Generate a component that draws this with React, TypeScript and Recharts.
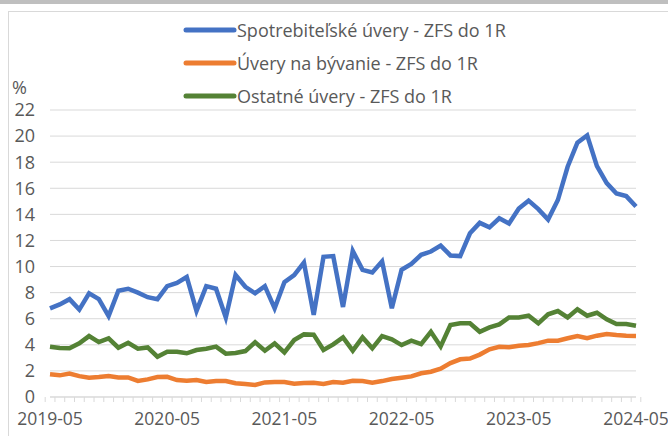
import { LineChart, Line, XAxis, YAxis, CartesianGrid, Legend } from "recharts";

const MONTHS = [
  "2019-05", "2019-06", "2019-07", "2019-08", "2019-09", "2019-10", "2019-11", "2019-12",
  "2020-01", "2020-02", "2020-03", "2020-04", "2020-05", "2020-06", "2020-07", "2020-08",
  "2020-09", "2020-10", "2020-11", "2020-12", "2021-01", "2021-02", "2021-03", "2021-04",
  "2021-05", "2021-06", "2021-07", "2021-08", "2021-09", "2021-10", "2021-11", "2021-12",
  "2022-01", "2022-02", "2022-03", "2022-04", "2022-05", "2022-06", "2022-07", "2022-08",
  "2022-09", "2022-10", "2022-11", "2022-12", "2023-01", "2023-02", "2023-03", "2023-04",
  "2023-05", "2023-06", "2023-07", "2023-08", "2023-09", "2023-10", "2023-11", "2023-12",
  "2024-01", "2024-02", "2024-03", "2024-04", "2024-05",
];

const CONSUMER = [
  6.8, 7.1, 7.5, 6.7, 7.95, 7.5, 6.2, 8.15, 8.3, 8.0, 7.65, 7.5,
  8.5, 8.75, 9.2, 6.6, 8.5, 8.3, 6.1, 9.35, 8.45, 7.95, 8.5, 6.8,
  8.8, 9.35, 10.3, 6.3, 10.75, 10.8, 6.9, 11.2, 9.75, 9.55, 10.4, 6.8,
  9.75, 10.2, 10.9, 11.15, 11.6, 10.85, 10.8, 12.55, 13.35, 13.0, 13.7, 13.3,
  14.45, 15.05, 14.4, 13.6, 15.1, 17.65, 19.5, 20.05, 17.7, 16.4, 15.6, 15.4,
  14.6,
];

const HOUSING = [
  1.74, 1.66, 1.8, 1.6, 1.48, 1.53, 1.6, 1.5, 1.5, 1.23, 1.35, 1.53,
  1.55, 1.3, 1.25, 1.3, 1.15, 1.22, 1.22, 1.05, 1.0, 0.92, 1.12, 1.15,
  1.15, 1.02, 1.07, 1.1, 1.0, 1.15, 1.1, 1.25, 1.22, 1.1, 1.22, 1.38,
  1.48, 1.58, 1.82, 1.94, 2.17, 2.6, 2.89, 2.95, 3.25, 3.65, 3.85, 3.82,
  3.93, 3.98, 4.13, 4.32, 4.32, 4.5, 4.68, 4.5, 4.7, 4.83, 4.75, 4.7,
  4.68,
];

const OTHER = [
  3.86, 3.76, 3.74, 4.11, 4.67, 4.21, 4.49, 3.78, 4.16, 3.7, 3.8, 3.09,
  3.47, 3.47, 3.35, 3.6, 3.7, 3.86, 3.32, 3.38, 3.52, 4.19, 3.55, 4.11,
  3.42, 4.37, 4.8, 4.78, 3.6, 4.03, 4.57, 3.55, 4.57, 3.73, 4.67, 4.42,
  3.98, 4.32, 4.06, 5.0, 3.88, 5.52, 5.65, 5.65, 5.0, 5.34, 5.57, 6.1,
  6.1, 6.23, 5.65, 6.34, 6.59, 6.1, 6.72, 6.23, 6.46, 5.95, 5.59, 5.59,
  5.46,
];

const Y_TICKS = [0, 2, 4, 6, 8, 10, 12, 14, 16, 18, 20, 22];

const SERIES = [
  { key: "consumer", name: "Spotrebiteľské úvery - ZFS do 1R", color: "#4472C4", values: CONSUMER },
  { key: "housing", name: "Úvery na bývanie - ZFS do 1R", color: "#ED7D31", values: HOUSING },
  { key: "other", name: "Ostatné úvery - ZFS do 1R", color: "#548235", values: OTHER },
];

const data = MONTHS.map((month, i) => {
  const row: Record<string, string | number> = { month };
  SERIES.forEach((s) => (row[s.key] = s.values[i]));
  return row;
});

const FONT = "'Open Sans', 'Liberation Sans', sans-serif";
const TEXT = "#595959";
const GRID = "#d9d9d9";
const STEP = 586 / MONTHS.length;

function MonthTick(props: any) {
  const { x, y, payload } = props;
  const idx = MONTHS.indexOf(payload.value);
  return (
    <g>
      <line x1={x - STEP / 2} x2={x - STEP / 2} y1={y} y2={y + 5} stroke={GRID} />
      {idx === MONTHS.length - 1 && (
        <line x1={x + STEP / 2} x2={x + STEP / 2} y1={y} y2={y + 5} stroke={GRID} />
      )}
      {idx % 12 === 0 && (
        <text x={x} y={y + 28} textAnchor="middle" fill={TEXT} fontSize={17.5} fontFamily={FONT}>
          {payload.value}
        </text>
      )}
    </g>
  );
}

function LegendRows({ payload }: any) {
  // keep the series order instead of the alphabetical one
  const items = SERIES.map((s) => (payload || []).find((p: any) => p.value === s.name)).filter(Boolean);
  return (
    <div>
      {items.map((p: any) => (
        <div key={p.value} style={{ display: "flex", alignItems: "center", height: 33 }}>
          <svg width={54} height={8}>
            <line x1={3} x2={51} y1={4} y2={4} stroke={p.color} strokeWidth={5} strokeLinecap="round" />
          </svg>
          <span style={{ fontFamily: FONT, fontSize: 18, color: TEXT, whiteSpace: "nowrap" }}>{p.value}</span>
        </div>
      ))}
    </div>
  );
}

export default function App() {
  return (
    <div style={{ position: "absolute", left: 0, top: 0, width: 668, height: 436, background: "#fff", overflow: "hidden" }}>
      <div style={{ position: "absolute", left: 0, top: 0, width: 668, height: 4, background: "#bfbfbf" }} />
      <div
        style={{
          position: "absolute",
          left: 8,
          top: 11,
          width: 700,
          height: 460,
          borderLeft: `1px solid ${GRID}`,
          borderTop: `1px solid ${GRID}`,
        }}
      />
      <span
        style={{ position: "absolute", left: 12, top: 75, fontFamily: FONT, fontSize: 18, color: TEXT }}
      >
        %
      </span>
      <LineChart
        width={668}
        height={436}
        data={data}
        margin={{ top: 110, right: 32, bottom: 0, left: 0 }}
        style={{ position: "absolute", left: 0, top: 0 }}
      >
        <CartesianGrid vertical={false} stroke={GRID} />
        <XAxis
          dataKey="month"
          interval={0}
          tickSize={0}
          tickMargin={0}
          height={39}
          axisLine={{ stroke: GRID }}
          tickLine={false}
          tick={<MonthTick />}
        />
        <YAxis
          width={50}
          domain={[0, 22]}
          ticks={Y_TICKS}
          axisLine={false}
          tickLine={false}
          tickSize={0}
          tickMargin={15}
          tick={{ fill: TEXT, fontSize: 18, fontFamily: FONT }}
        />
        <Legend
          layout="horizontal"
          verticalAlign="middle"
          align="center"
          content={<LegendRows />}
          wrapperStyle={{ top: 13, left: 183, width: 420 }}
        />
        {SERIES.map((s) => (
          <Line
            key={s.key}
            dataKey={s.key}
            name={s.name}
            stroke={s.color}
            strokeWidth={4.5}
            dot={false}
            activeDot={false}
            isAnimationActive={false}
          />
        ))}
      </LineChart>
    </div>
  );
}
